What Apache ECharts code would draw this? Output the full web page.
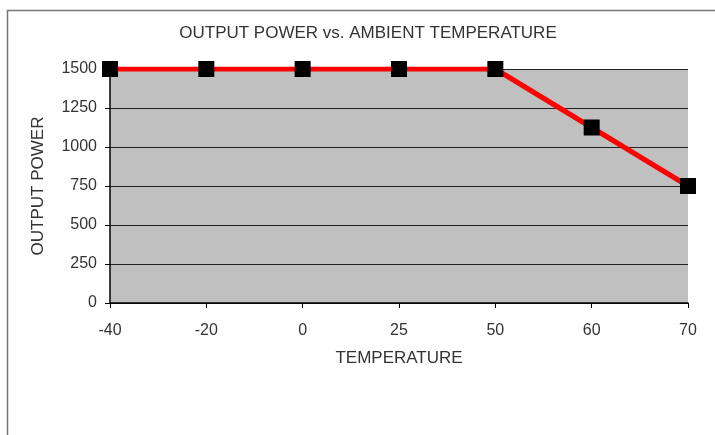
<!DOCTYPE html>
<html>
<head>
<meta charset="utf-8">
<script src="https://cdn.jsdelivr.net/npm/echarts@6/dist/echarts.min.js"></script>
<style>html,body{margin:0;padding:0;background:#fff}#c{width:715px;height:435px}</style>
</head>
<body>
<div id="c"></div>
<script>
const temperatures = ['-40', '-20', '0', '25', '50', '60', '70'];
const outputPower = [1500, 1500, 1500, 1500, 1500, 1125, 750];
const chartTitle = 'OUTPUT POWER vs. AMBIENT TEMPERATURE';
const xName = 'TEMPERATURE';
const yName = 'OUTPUT POWER';

const chart = echarts.init(document.getElementById('c'));
const font = 'Liberation Sans, Arial, sans-serif';
chart.setOption({
  animation: false,
  backgroundColor: '#fff',
  textStyle: { fontFamily: font },
  title: {
    text: chartTitle, left: 363, top: 20, textAlign: 'center',
    textStyle: { fontSize: 17, fontWeight: 'normal', color: '#333', fontFamily: font }
  },
  graphic: [{
    type: 'rect', left: 5, top: 8, z: -1,
    shape: { width: 720, height: 440 },
    style: { fill: 'none', stroke: '#777', lineWidth: 1.5 }
  }],
  grid: { left: 110, right: 27, top: 69, bottom: 132, show: true, backgroundColor: '#c0c0c0', borderWidth: 0 },
  xAxis: {
    type: 'category', data: temperatures, boundaryGap: false,
    name: xName, nameLocation: 'middle', nameGap: 47,
    nameTextStyle: { fontSize: 17, color: '#333', fontFamily: font },
    axisLine: { lineStyle: { color: '#000', width: 1.5 } },
    axisTick: { show: true, length: 5, inside: false, alignWithLabel: true, lineStyle: { color: '#000' } },
    axisLabel: { fontSize: 16, color: '#333', margin: 20, fontFamily: font },
    splitLine: { show: false }
  },
  yAxis: {
    type: 'value', min: 0, max: 1500, interval: 250,
    name: yName, nameLocation: 'middle', nameGap: 63, nameRotate: 90,
    nameTextStyle: { fontSize: 17, color: '#333', fontFamily: font },
    axisLine: { show: true, lineStyle: { color: '#000', width: 1.5 } },
    axisTick: { show: true, length: 5, inside: false, lineStyle: { color: '#000' } },
    axisLabel: { fontSize: 16, color: '#333', margin: 13, fontFamily: font, formatter: v => String(v) },
    splitLine: { show: true, lineStyle: { color: '#222', width: 1 } }
  },
  series: [{
    type: 'line', data: outputPower,
    lineStyle: { color: '#ff0000', width: 5 },
    itemStyle: { color: '#000' },
    symbol: 'rect', symbolSize: 16, showSymbol: true,
    z: 5
  }]
});
</script>
</body>
</html>
